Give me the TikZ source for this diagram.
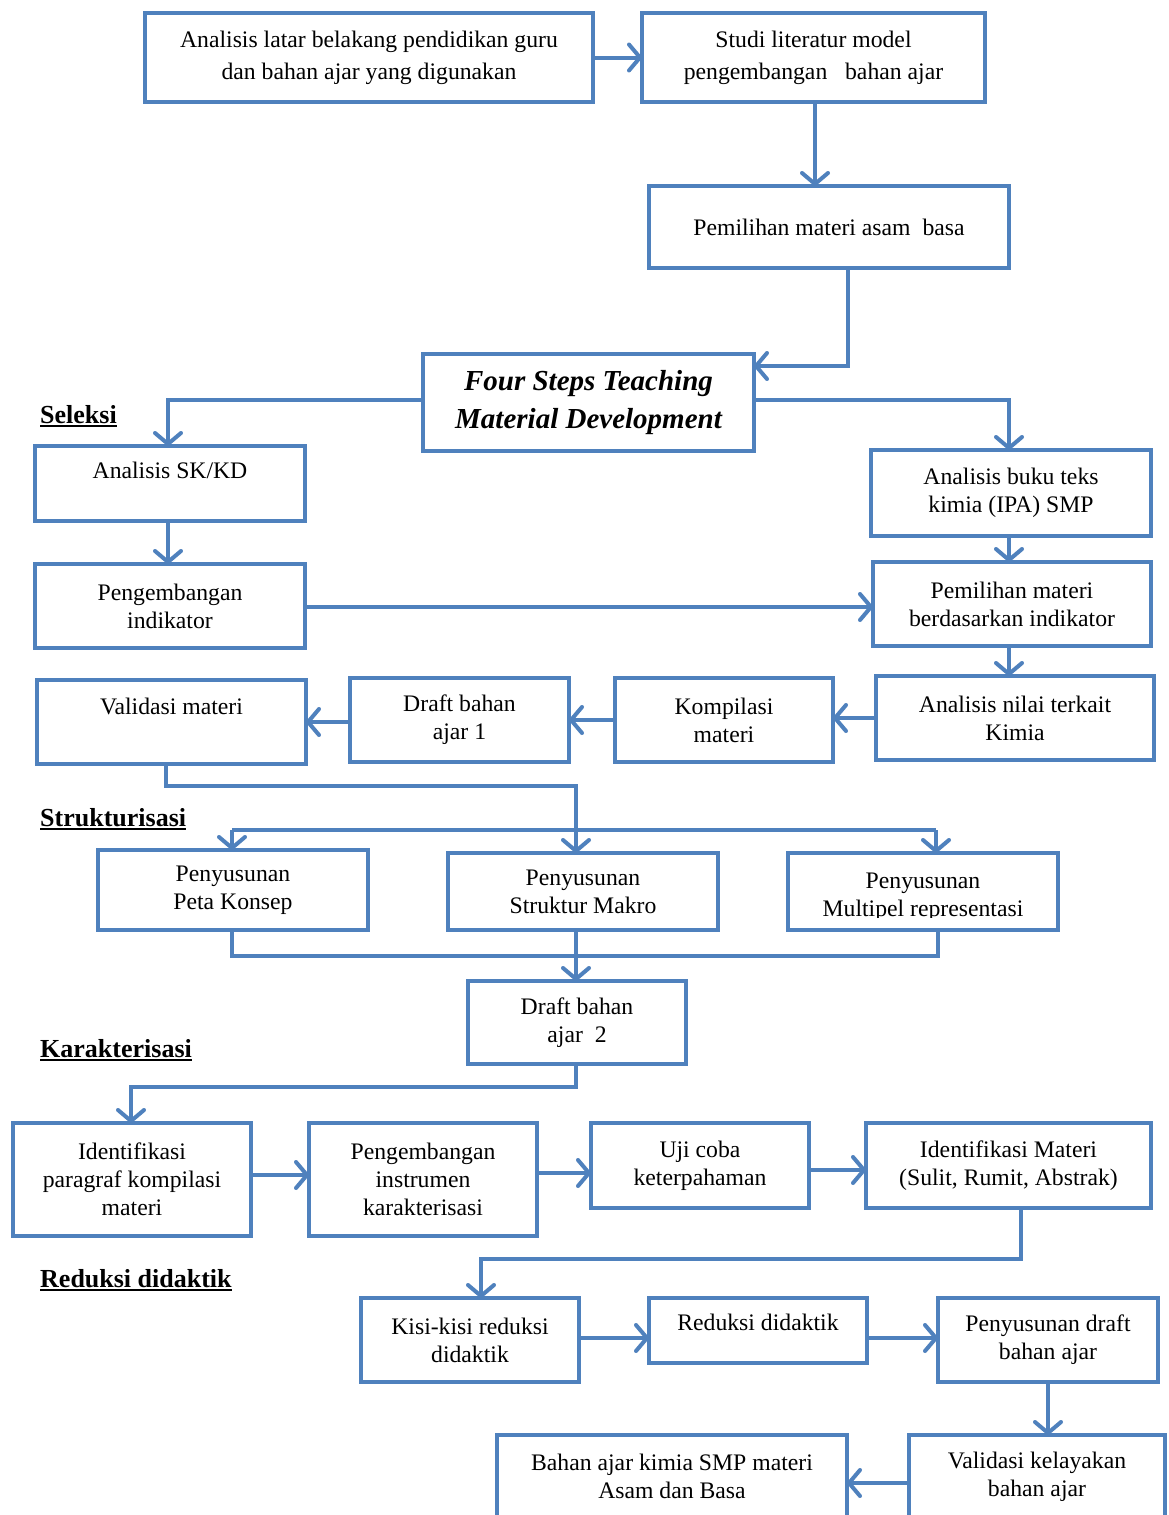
\documentclass[tikz,border=0pt]{standalone}
\usepackage{fontspec}
\setmainfont{Liberation Serif}
\usetikzlibrary{arrows.meta,calc}
\definecolor{bl}{RGB}{79,129,189}
\newcommand\ulbf[1]{\setbox0\hbox{\bfseries #1}\rlap{\rule[-4pt]{\wd0}{2.5pt}}\box0}
\newcommand\mybox[7][]{\node[box,#1,minimum width={(#5-#3)*1pt},minimum height={(#6-#4)*1pt},anchor=north west] (#2) at (#3,#4) {#7};}
\begin{document}
\begin{tikzpicture}[x=1pt,y=-1pt,
  box/.style={draw=bl,line width=4pt,fill=white,inner sep=0pt,outer sep=0pt,align=center,font=\fontsize{23.7}{28}\selectfont},
  lab/.style={inner sep=0pt,font=\fontsize{26}{30}\selectfont},
  ln/.style={draw=bl,line width=4pt},
  arr/.style={ln,-{Straight Barb[length=11pt,width=26pt,round]}}]
\useasboundingbox (0,0) rectangle (1168,1515);
\clip (0,0) rectangle (1168,1515);
\fill[white] (0,0) rectangle (1168,1515);

% boxes
\mybox{A}{145}{13}{593}{102}{Analisis latar belakang pendidikan guru\\[4pt]dan bahan ajar yang digunakan}
\mybox{B}{642}{13}{985}{102}{Studi literatur model\\[4pt]pengembangan\ \ \ bahan ajar}
\mybox{C}{649}{186}{1009}{268}{Pemilihan materi asam\ \ basa}
\mybox[font=\fontsize{29}{38}\selectfont\bfseries\itshape]{D}{423}{354}{754}{451}{Four Steps Teaching\\Material Development}
\mybox{E}{35}{446}{305}{521}{Analisis SK/KD\\[-2pt]\mbox{}}
\mybox{F}{871}{450}{1151}{536}{Analisis buku teks\\kimia (IPA) SMP}
\mybox{G}{35}{564}{305}{648}{Pengembangan\\indikator}
\mybox{H}{873}{562}{1151}{646}{Pemilihan materi\\berdasarkan indikator}
\mybox{I}{37}{680}{306}{764}{Validasi materi\\[3pt]\mbox{}}
\mybox{J}{350}{678}{569}{762}{Draft bahan\\ajar 1}
\mybox{K}{615}{678}{833}{762}{Kompilasi\\materi}
\mybox{L}{876}{676}{1154}{760}{Analisis nilai terkait\\Kimia}
\mybox{M}{98}{850}{368}{930}{Penyusunan\\Peta Konsep}
\mybox{N}{448}{853}{718}{930}{Penyusunan\\Struktur Makro}
\mybox{O}{788}{853}{1058}{930}{}
\begin{scope}
\clip (790,855) rectangle (1056,917);
\node[box,draw=none,fill=none] (Ot) at (923,897) {Penyusunan\\Multipel representasi};
\end{scope}
\mybox{P}{468}{981}{686}{1064}{Draft bahan\\ajar\ \ 2}
\mybox{Q}{13}{1123}{251}{1236}{Identifikasi\\paragraf kompilasi\\materi}
\mybox{R}{309}{1123}{537}{1236}{Pengembangan\\instrumen\\karakterisasi}
\mybox{S}{591}{1123}{809}{1208}{Uji coba\\keterpahaman}
\mybox{T}{866}{1123}{1151}{1208}{Identifikasi Materi\\(Sulit, Rumit, Abstrak)}
\mybox{U}{361}{1298}{579}{1382}{Kisi-kisi reduksi\\didaktik}
\mybox{V}{649}{1298}{867}{1363}{Reduksi didaktik\\[-12pt]\mbox{}}
\mybox{W}{938}{1298}{1158}{1382}{Penyusunan draft\\bahan ajar}
\mybox{X}{497}{1435}{847}{1518}{Bahan ajar kimia SMP materi\\Asam dan Basa}
\mybox{Y}{909}{1435}{1165}{1518}{Validasi kelayakan\\bahan ajar}

% section labels
\node[lab,anchor=base west] (sel) at (40,423) {\ulbf{Seleksi}};
\node[lab,anchor=base west] (str) at (40,826) {\ulbf{Strukturisasi}};
\node[lab,anchor=base west] (kar) at (40,1057) {\ulbf{Karakterisasi}};
\node[lab,anchor=base west] (red) at (40,1287) {\ulbf{Reduksi didaktik}};

% connectors
\draw[arr] (A.east) -- (B.west);
\draw[arr] (B.south -| 815,0) -- (C.north -| 815,0);
\coordinate (cd) at (848,366);
\draw[arr] (C.south -| cd) -- (cd) -- (D.east |- cd);
\coordinate (de) at (168,400);
\coordinate (df) at (1009,400);
\draw[arr] (D.west |- de) -- (de) -- (E.north -| de);
\draw[arr] (D.east |- df) -- (df) -- (F.north -| df);
\draw[arr] (E.south -| de) -- (G.north -| de);
\draw[arr] (F.south -| df) -- (H.north -| df);
\draw[arr] (G.east |- 0,607) -- (H.west |- 0,607);
\draw[arr] (H.south -| df) -- (L.north -| df);
\draw[arr] (L.west |- 0,718) -- (K.east |- 0,718);
\draw[arr] (K.west |- 0,720) -- (J.east |- 0,720);
\draw[arr] (J.west |- 0,722) -- (I.east |- 0,722);
\coordinate (i1) at (166,786);
\coordinate (i2) at (576,786);
\coordinate (sM) at (232,830);
\coordinate (sN) at (576,830);
\coordinate (sO) at (936,830);
\draw[ln] (I.south -| i1) -- (i1) -- (i2) -- (sN);
\draw[ln] (sM) -- (sO);
\draw[arr] (sM) -- (M.north -| sM);
\draw[arr] (sN) -- (N.north -| sN);
\draw[arr] (sO) -- (O.north -| sO);
\coordinate (mM) at (232,956);
\coordinate (mO) at (938,956);
\draw[ln] (M.south -| mM) -- (mM) -- (mO) -- (O.south -| mO);
\draw[arr] (N.south -| sN) -- (P.north -| sN);
\coordinate (p1) at (576,1087);
\coordinate (p2) at (131,1087);
\draw[arr] (P.south -| p1) -- (p1) -- (p2) -- (Q.north -| p2);
\draw[arr] (Q.east |- 0,1175) -- (R.west |- 0,1175);
\draw[arr] (R.east |- 0,1173) -- (S.west |- 0,1173);
\draw[arr] (S.east |- 0,1170) -- (T.west |- 0,1170);
\coordinate (t1) at (1021,1259);
\coordinate (t2) at (481,1259);
\draw[arr] (T.south -| t1) -- (t1) -- (t2) -- (U.north -| t2);
\draw[arr] (U.east |- 0,1338) -- (V.west |- 0,1338);
\draw[arr] (V.east |- 0,1338) -- (W.west |- 0,1338);
\draw[arr] (W.south -| 1048,0) -- (Y.north -| 1048,0);
\draw[arr] (Y.west |- 0,1483) -- (X.east |- 0,1483);
\end{tikzpicture}
\end{document}
